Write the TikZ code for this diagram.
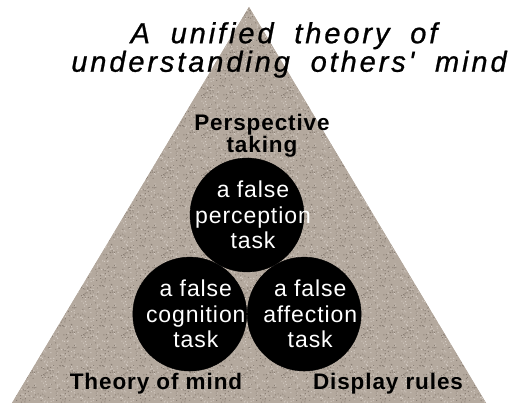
\documentclass[tikz,border=0pt]{standalone}
\usepackage{fontspec}
\setmainfont{Liberation Sans}
\newfontfamily\titlefont[LetterSpace=10,WordSpace=1.9,FakeBold=0.8]{Liberation Sans}
\newfontfamily\sidefont[LetterSpace=4,WordSpace=3]{Liberation Sans}
\newfontfamily\taskfont[LetterSpace=4]{Liberation Sans}
\usetikzlibrary{positioning,patterns}
\definecolor{granite}{RGB}{180,169,158}
\definecolor{granitedark}{RGB}{138,127,117}
\definecolor{granitelight}{RGB}{212,203,195}
% speckled stone tile
\pgfdeclarepatterninherentlycolored{stone}{\pgfpointorigin}{\pgfqpoint{40pt}{40pt}}{\pgfqpoint{40pt}{40pt}}{
  \pgfsetfillcolor{granite}
  \pgfpathrectangle{\pgfpointorigin}{\pgfqpoint{40pt}{40pt}}
  \pgfusepath{fill}
  \pgfmathsetseed{7}
  \foreach \i in {1,...,90}{
    \pgfmathsetmacro\px{rnd*39}\pgfmathsetmacro\py{rnd*39}
    \pgfsetfillcolor{granitedark}
    \pgfpathrectangle{\pgfpoint{\px pt}{\py pt}}{\pgfqpoint{1pt}{1pt}}
    \pgfusepath{fill}
    \pgfmathsetmacro\px{rnd*39}\pgfmathsetmacro\py{rnd*39}
    \pgfsetfillcolor{granitelight}
    \pgfpathrectangle{\pgfpoint{\px pt}{\py pt}}{\pgfqpoint{1pt}{1pt}}
    \pgfusepath{fill}
  }
}
\tikzset{task node/.style={circle,fill=black,draw=black,minimum size=114pt,inner sep=0pt},
         task text/.style={text=white,align=center,font=\taskfont\fontsize{23}{25.5}\selectfont,xshift=6pt},
         side label/.style={font=\sidefont\bfseries\fontsize{22.5}{20}\selectfont,align=center,inner sep=0pt},
            }

\begin{document}
\begin{tikzpicture}[x=1pt,y=-1pt]
\useasboundingbox (0,0) rectangle (517,403);
 \coordinate (apex) at (249,7);
 \coordinate (bl) at (12,403);
 \coordinate (br) at (486,403);
 \fill[granite] (apex) -- (bl) -- (br) -- cycle;
 \path[pattern=stone] (apex) -- (bl) -- (br) -- cycle;

 \node[align=center,inner sep=0pt,font=\titlefont\itshape\fontsize{29}{28.5}\selectfont] (title) at (289,50) {A unified theory of\hspace*{10pt}\\understanding others' mind};

 \node[side label] (persp) at (262,136) {Perspective\\taking};

 \node[task node,label={[task text]center:a false\\perception\\task}] (perc) at (247,215) {};
 \node[task node,anchor=60,label={[task text]center:a false\\cognition\\task}] (cog) at (perc.240) {};
 \node[task node,label={[task text]center:a false\\affection\\task}] (aff) [right=0pt of cog] {};

 \node[side label,anchor=base] (tom) at (156,390) {Theory of mind};
 \node[side label,anchor=base] (disp) at (388,390) {Display rules};
\end{tikzpicture}
\end{document}
